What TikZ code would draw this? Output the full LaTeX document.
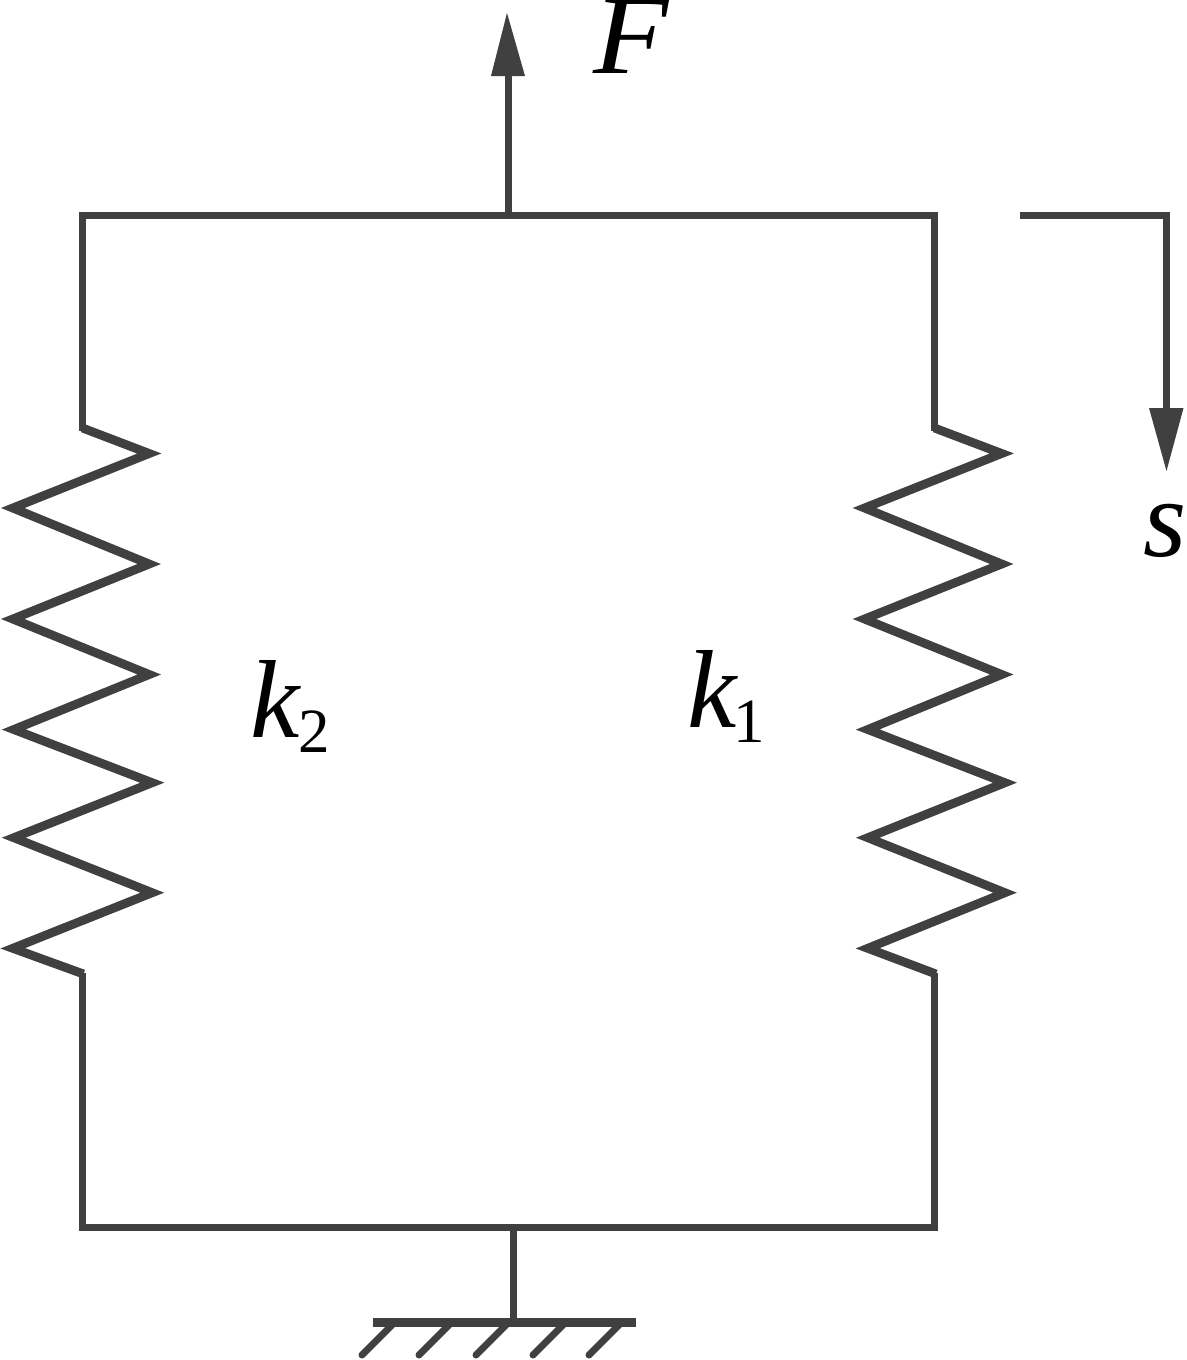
\documentclass[tikz,border=0pt]{standalone}
\usepackage{fontspec}
\setmainfont{Liberation Serif}
\definecolor{ink}{RGB}{64,64,64}
\tikzset{
 line/.style={draw=ink,line width=7pt,line cap=butt,line join=miter,miter limit=12},
 coil/.style={draw=ink,line width=8.8pt,line cap=butt,line join=miter,miter limit=12},
 hatch/.style={draw=ink,line width=7pt,line cap=round},
 arrowhead/.style={fill=ink,draw=none},
 lab/.style={text=black,inner sep=0pt,anchor=base west,font=\fontsize{111}{111}\selectfont\itshape},
 bigf/.style={lab,font=\fontsize{113}{113}\selectfont\itshape},
 subs/.style={text=black,inner sep=0pt,anchor=base west,font=\fontsize{63}{63}\selectfont}
}
\begin{document}
\begin{tikzpicture}[x=1pt,y=-1pt]
\useasboundingbox (0,0) rectangle (1186,1360);
\coordinate (TL) at (82.5,215);
\coordinate (TR) at (934.5,215);
\coordinate (BL) at (82.5,1227);
\coordinate (BR) at (934.5,1227);
\coordinate (TM) at (508,215);
\coordinate (BM) at (513.5,1227);
\coordinate (G) at (513.5,1322);
\draw[line] (79,215) -- (938,215);
\draw[line] (79,1227.5) -- (938,1227.5);
% left spring
\draw[line] (TL) -- (82.5,431);
\draw[line] (82.5,973) -- (BL);
\draw[coil] (82.5,428) -- (149.25,453.5) -- (12.75,508) -- (149.25,564) -- (12.75,619) -- (149.25,674.5) -- (13.75,729.5) -- (152.25,782.7) -- (13.75,837.7) -- (152.25,892.7) -- (12.75,948.3) -- (83.5,974);
% right spring
\draw[line] (TR) -- (934.5,431);
\draw[line] (934.5,973) -- (BR);
\draw[coil] (934.5,428) -- (1001.75,453.5) -- (864.5,508) -- (1001.75,564) -- (864.5,619) -- (1001.75,674.5) -- (867.75,729.5) -- (1005,782.7) -- (867.75,837.7) -- (1005,892.7) -- (867.75,948.3) -- (936,974);
% force arrow
\coordinate (Ftip) at (507,13);
\coordinate (Fbase) at (507,76);
\draw[line] (508,215) -- (508,76);
\fill[arrowhead] (Ftip) -- (525,76) -- (491,76) -- cycle;
% displacement arrow
\coordinate (Sstart) at (1020,215);
\coordinate (Scorner) at (1166.5,215);
\coordinate (Stip) at (1166.5,471);
\coordinate (Sbase) at (1166.5,408);
\draw[line] (Sstart) -- (Scorner) -- (Sbase);
\fill[arrowhead] (Stip) -- (1149,408) -- (1183.5,408) -- cycle;
% ground
\draw[line] (BM) -- (G);
\coordinate (GL) at (373,1322.5);
\coordinate (GR) at (636,1322.5);
\draw[draw=ink,line width=9pt] (GL) -- (GR);
\foreach \x in {392,449,506,563,619}{
 \draw[hatch] (\x,1325) -- (\x-30,1355);
}
% labels
\node[bigf] (F) at (593,73) {\scalebox{1.09}[1]{F}};
\node[lab] (s) at (1143,556) {s};
\node[lab] (k2) at (250,737) {k};
\node[subs] (k2s) at (298,752) {2};
\node[lab] (k1) at (687,727) {k};
\node[subs] (k1s) at (733,742) {1};
\end{tikzpicture}
\end{document}
